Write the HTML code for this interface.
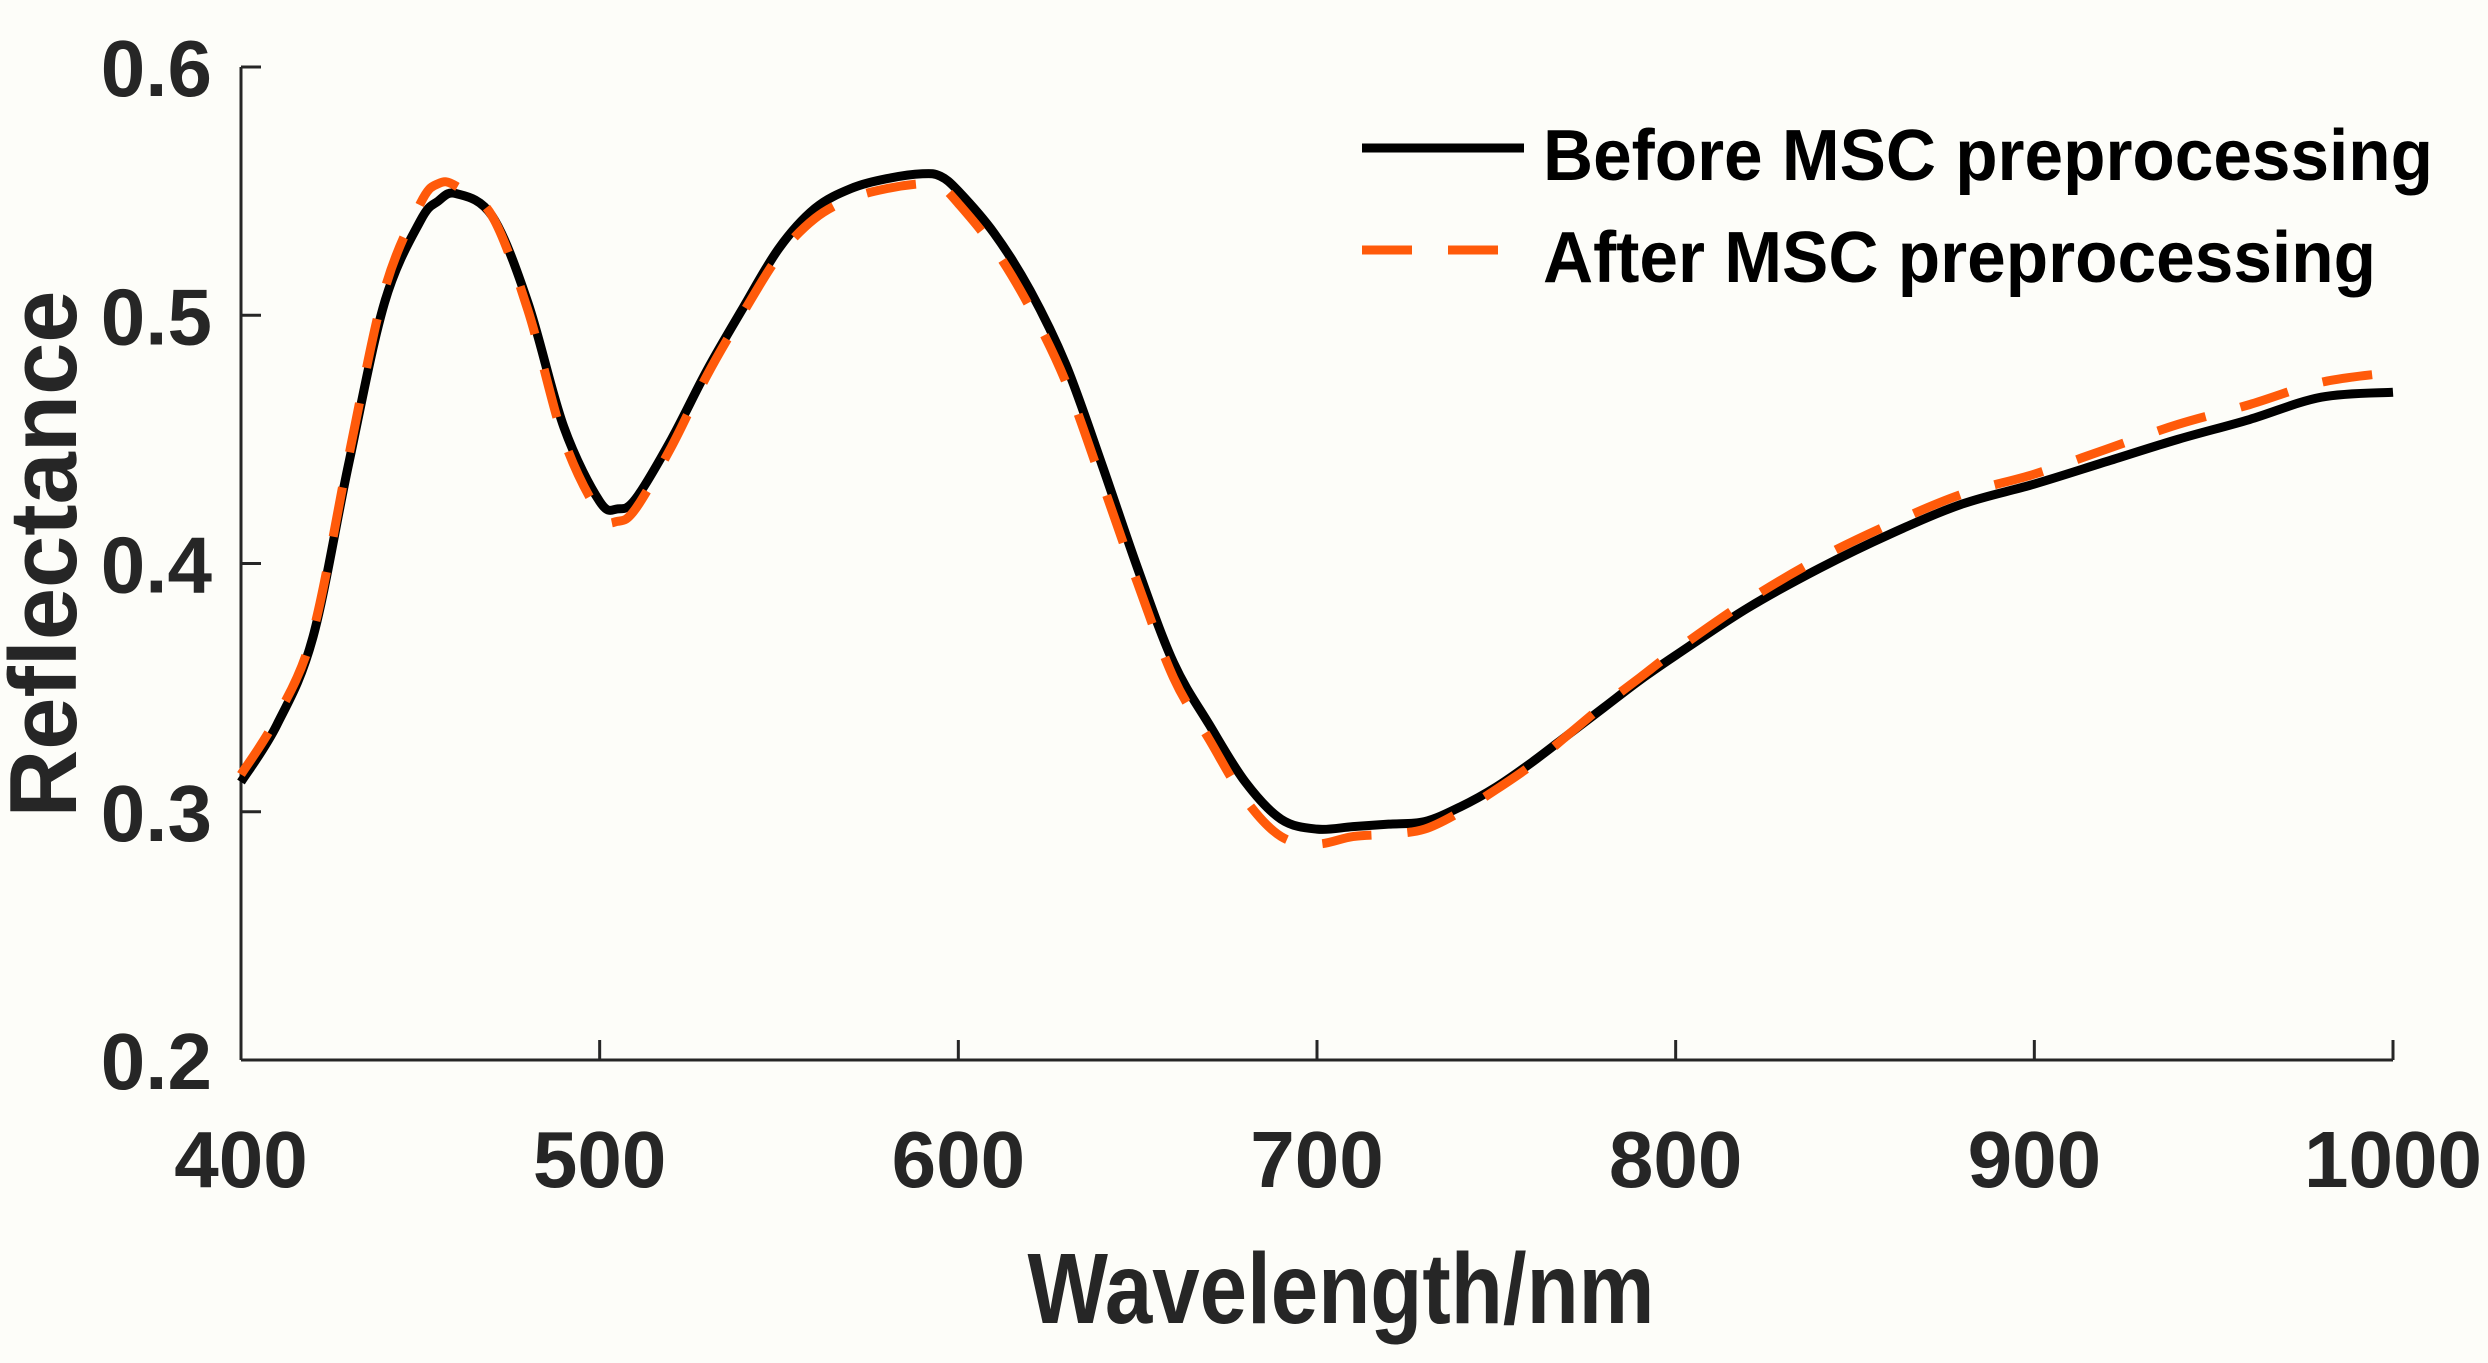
<!DOCTYPE html>
<html><head><meta charset="utf-8"><style>
html,body{margin:0;padding:0;background:#fdfdf9;}
svg{display:block;font-family:"Liberation Sans",Arial,sans-serif;font-weight:bold;}
</style></head><body>
<svg id="chart" width="2488" height="1363" viewBox="0 0 2488 1363">
<rect width="2488" height="1363" fill="#fdfdf9"/>
<g id="axes"></g>
<g id="series"></g>
<g>
<line x1="1362" y1="148" x2="1524" y2="148" stroke="#000" stroke-width="9"/>
<text x="1543" y="180" font-size="72" fill="#000" textLength="890" lengthAdjust="spacingAndGlyphs">Before MSC preprocessing</text>
<line x1="1362" y1="250" x2="1524" y2="250" stroke="#ff5a0a" stroke-width="9" stroke-dasharray="50,36"/>
<text x="1543" y="282" font-size="72" fill="#000" textLength="833" lengthAdjust="spacingAndGlyphs">After MSC preprocessing</text>
</g>
<text x="1341" y="1323" font-size="100" fill="#262626" text-anchor="middle" textLength="627" lengthAdjust="spacingAndGlyphs">Wavelength/nm</text>
<text transform="translate(76,554) rotate(-90)" font-size="96" fill="#262626" text-anchor="middle" textLength="527" lengthAdjust="spacingAndGlyphs">Reflectance</text>
</svg>
<script>
const xTicks=[400,500,600,700,800,900,1000];
const yTicks=[0.2,0.3,0.4,0.5,0.6];
const yTickLabels=["0.2","0.3","0.4","0.5","0.6"];
const wavelengths=[400,410,420,430,440,450,455,460,470,480,490,500,505,510,520,530,540,550,560,570,580,590,595,600,610,620,630,640,650,660,670,680,690,700,710,720,730,740,750,760,770,780,790,800,820,840,860,880,900,920,940,960,980,1000];
const before=[0.312,0.335,0.37,0.44,0.505,0.538,0.546,0.549,0.54,0.505,0.455,0.425,0.422,0.426,0.45,0.478,0.503,0.527,0.543,0.551,0.555,0.557,0.556,0.55,0.533,0.51,0.48,0.44,0.398,0.36,0.335,0.312,0.297,0.293,0.294,0.295,0.296,0.302,0.31,0.32,0.331,0.342,0.353,0.363,0.382,0.398,0.412,0.424,0.432,0.441,0.45,0.458,0.467,0.469];
const after=[0.315,0.338,0.372,0.443,0.51,0.545,0.553,0.552,0.54,0.502,0.45,0.42,0.417,0.422,0.447,0.476,0.501,0.524,0.539,0.547,0.551,0.553,0.552,0.545,0.527,0.503,0.473,0.433,0.392,0.354,0.329,0.305,0.29,0.287,0.29,0.291,0.293,0.3,0.309,0.319,0.331,0.343,0.354,0.365,0.385,0.402,0.416,0.428,0.436,0.446,0.456,0.464,0.473,0.477];
const X0=241,X1=2393,Y0=1060,Y1=67;
const xs=v=>X0+(v-400)/600*(X1-X0);
const ys=v=>Y0-(v-0.2)/0.4*(Y0-Y1);
const NS="http://www.w3.org/2000/svg";
const axes=document.getElementById('axes');
function mk(tag,attrs,parent){const e=document.createElementNS(NS,tag);for(const k in attrs)e.setAttribute(k,attrs[k]);parent.appendChild(e);return e;}
const xa=mk('line',{x1:X0,y1:Y0,x2:X1,y2:Y0,stroke:'#262626','stroke-width':3},axes);


const ya=mk('line',{x1:X0,y1:Y0,x2:X0,y2:Y1,stroke:'#262626','stroke-width':3},axes);


xTicks.forEach(t=>{
 const l=mk('line',{x1:xs(t),y1:Y0,x2:xs(t),y2:Y0-20,stroke:'#262626','stroke-width':3},axes);
 
 
 const tx=mk('text',{x:xs(t),y:1187,'font-size':80,fill:'#262626','text-anchor':'middle'},axes);
 tx.textContent=t;
 
 
});
yTicks.forEach((t,i)=>{
 const l=mk('line',{x1:X0,y1:ys(t),x2:X0+20,y2:ys(t),stroke:'#262626','stroke-width':3},axes);
 
 
 const tx=mk('text',{x:212,y:ys(t)+29,'font-size':80,fill:'#262626','text-anchor':'end'},axes);
 tx.textContent=yTickLabels[i];
 
 
});
function pathFor(vals){
 const p=wavelengths.map((w,i)=>[xs(w),ys(vals[i])]);
 let d='M'+p[0][0]+','+p[0][1];
 for(let i=0;i<p.length-1;i++){
  const a=p[Math.max(0,i-1)],b=p[i],c=p[i+1],e=p[Math.min(p.length-1,i+2)];
  const c1=[b[0]+(c[0]-a[0])/6,b[1]+(c[1]-a[1])/6];
  const c2=[c[0]-(e[0]-b[0])/6,c[1]-(e[1]-b[1])/6];
  d+=' C'+c1+' '+c2+' '+c;
 }
 return d;
}
const sg=document.getElementById('series');
const pb=mk('path',{d:pathFor(before),fill:'none',stroke:'#000','stroke-width':9,'stroke-linejoin':'round'},sg);


const pa=mk('path',{d:pathFor(after),fill:'none',stroke:'#ff5a0a','stroke-width':9,'stroke-dasharray':'50,36'},sg);


</script>
</body></html>
